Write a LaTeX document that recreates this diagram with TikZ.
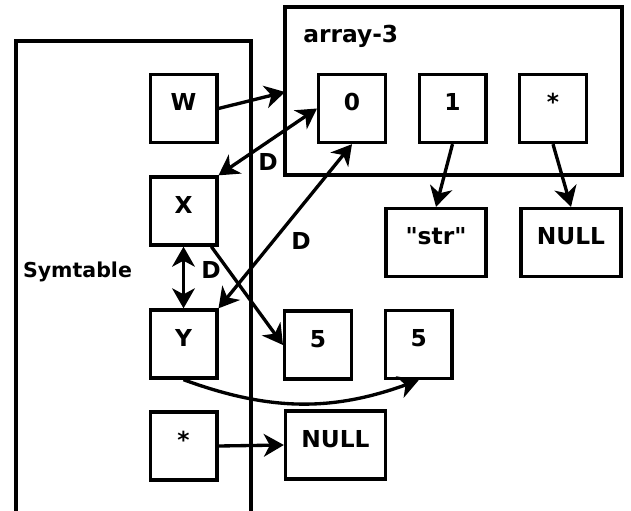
\documentclass[tikz,border=0pt]{standalone}
\usepackage{fontspec}
\setmainfont{DejaVu Sans}
\usetikzlibrary{arrows.meta}
\tikzset{
  cell/.style={draw, line width=2.5pt, minimum width=50pt, minimum height=51pt,
    inner sep=0pt, font=\fontsize{17.5}{20}\bfseries, text height=0.5em, text depth=0.2em},
  wide/.style={cell, minimum width=75pt},
  lbl/.style={font=\fontsize{17.5}{20}\bfseries, inner sep=0pt},
  tip/.tip={Stealth[length=15pt, width=17pt, inset=4.5pt]},
  ptr/.style={line width=2.5pt, -tip},
  dptr/.style={line width=2.5pt, tip-tip}
}
\begin{document}
\begin{tikzpicture}[x=0.75pt, y=-0.75pt]
      \useasboundingbox (0,0) rectangle (631,510);
      % frames
      \draw[line width=2.5pt] (16,512) -- (16,41) -- (251,41) -- (251,512);
      \draw[line width=2.5pt] (285,7) rectangle (622,175);
      \node[lbl, font=\fontsize{15.4}{18}\bfseries] (symt) at (77.5,272) {Symtable};
      \node[lbl, anchor=west] (arrt) at (303,36) {array-3};
      \coordinate (wtip) at (285,92);
      \path
        (183.5,108.5) node[cell] (W){W}
        (183.5,211) node[cell] (X){X}
        (183.5,344) node[cell] (Y){Y}
        (183.5,446) node[cell] (S){*}
        (352,108.5) node[cell] (a0){0}
        (452.5,108.5) node[cell] (a1){1}
        (553,108.5) node[cell] (a2){*}
        (436,242.5) node[wide] (str){\textquotedbl str\textquotedbl}
        (571,242.5) node[wide] (nullr){NULL}
        (318,345) node[cell] (five1){5}
        (418.7,344.5) node[cell] (five2){5}
        (335.5,445) node[wide] (nullb){NULL};
      \begin{scope}[ptr]
        \draw (W.east) to (wtip);
        \draw[dptr] (X.north east) to (a0.west);
        \draw[dptr] (Y.north east) to (a0.south);
        \draw[dptr] (X.south) to (Y.north);
        \draw (X.-52) to (five1.west);
        \draw (Y.south) to[bend right=20] (five2.south);
        \draw (a1.south) to (str.north);
        \draw (a2.south) to (nullr.north);
        \draw (S.east) to (nullb.west);
      \end{scope}
      \node[lbl] (d1) at (268,162) {D};
      \node[lbl] (d2) at (301,241) {D};
      \node[lbl] (d3) at (211,270) {D};
    \end{tikzpicture}
\end{document}
